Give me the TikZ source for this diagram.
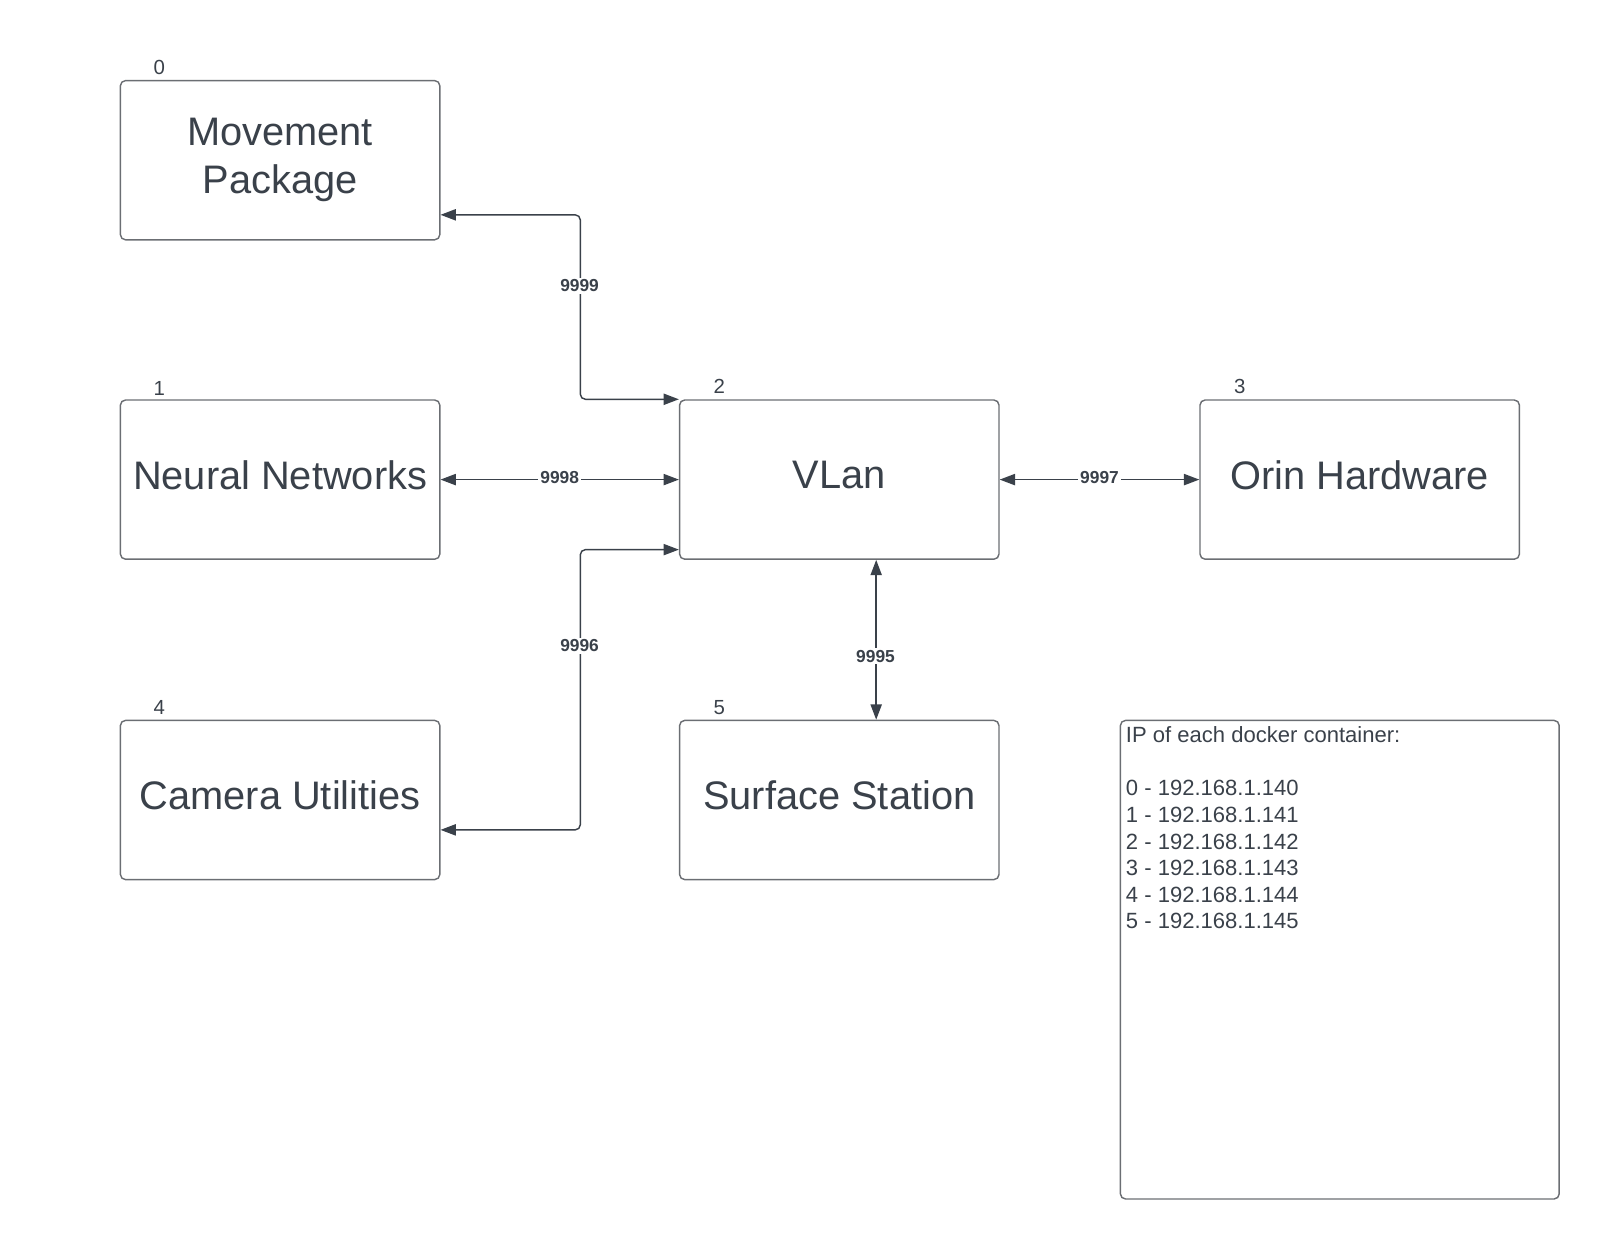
\documentclass[tikz,border=0pt]{standalone}
\usepackage{fontspec}
\setmainfont{Liberation Sans}
\usetikzlibrary{arrows.meta,calc}
\definecolor{ink}{HTML}{3A414A}
\definecolor{frame}{HTML}{6B6E73}
\tikzset{
  box/.style={draw=frame, line width=0.7pt, rounded corners=2.5pt, minimum width=156.5pt, minimum height=78pt, inner sep=0pt, align=center, text=ink, font=\fontsize{19.5pt}{23.5pt}\selectfont},
  oneline/.style={text depth=4.5pt},
  num/.style={text=ink, font=\fontsize{10pt}{12pt}\selectfont, inner sep=0pt},
  conn/.style={draw=ink, line width=0.7pt, rounded corners=2.5pt, {Triangle[length=7.5pt,width=5.5pt]}-{Triangle[length=7.5pt,width=5.5pt]}},
  lbl/.style={fill=white, text=ink, font=\bfseries\fontsize{8.5pt}{10pt}\selectfont, inner sep=1pt}
}
\begin{document}
\begin{tikzpicture}[x=0.5pt,y=-0.5pt]
\useasboundingbox (0,0) rectangle (1568,1215.2);
\node[box] (b0) at (274.5,157) {Movement\\Package};
\node[box,oneline] (b1) at (274.5,470) {Neural Networks};
\node[box,oneline] (b2) at (822.5,470) {VLan};
\node[box,oneline] (b3) at (1332.5,470) {Orin Hardware};
\node[box,oneline] (b4) at (274.5,784) {Camera Utilities};
\node[box,oneline] (b5) at (822.5,784) {Surface Station};
\node[draw=frame, line width=0.7pt, rounded corners=2.5pt, minimum width=215pt, minimum height=234.5pt, inner sep=0pt] (ip) at (1313,940.5) {};
\node[anchor=north west, text=ink, align=left, inner sep=0pt, font=\fontsize{10.8pt}{13pt}\selectfont] (iptext) at (1103,712) {IP of each docker container:\\[13pt]0 - 192.168.1.140\\1 - 192.168.1.141\\2 - 192.168.1.142\\3 - 192.168.1.143\\4 - 192.168.1.144\\5 - 192.168.1.145};
\node[num] (n0) at (156,66) {0};
\node[num] (n1) at (156,381) {1};
\node[num] (n2) at (705,379) {2};
\node[num] (n3) at (1215,379) {3};
\node[num] (n4) at (156,693) {4};
\node[num] (n5) at (705,693) {5};
\coordinate (p0) at ($(b0.north east)!0.84!(b0.south east)$);
\coordinate (p4) at ($(b4.north east)!0.686!(b4.south east)$);
\coordinate (q2) at ($(b2.north west)!0.936!(b2.south west)$);
\draw[conn] (p0) -- ++(137,0) |- (b2.north west);
\draw[conn] (p4) -- ++(137,0) |- (q2);
\draw[conn] (b1.east) -- (b2.west);
\draw[conn] (b2.east) -- (b3.west);
\draw[conn] ($(b2.south west)!0.615!(b2.south east)$) -- ($(b5.north west)!0.615!(b5.north east)$);
\node[lbl] (l9999) at (568,280) {9999};
\node[lbl] (l9998) at (548.5,468) {9998};
\node[lbl] (l9997) at (1077.5,468) {9997};
\node[lbl] (l9996) at (568,633) {9996};
\node[lbl] (l9995) at (858,643) {9995};
\end{tikzpicture}
\end{document}
